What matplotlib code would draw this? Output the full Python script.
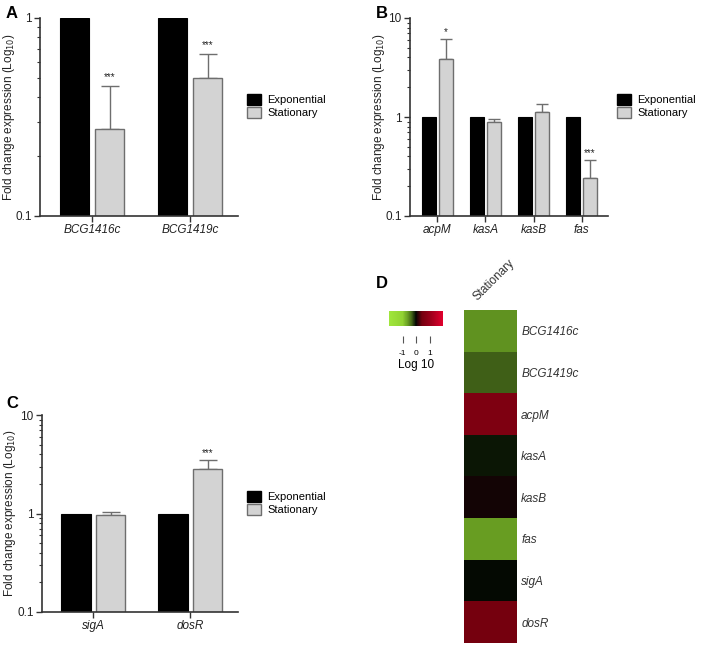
import numpy as np
import matplotlib
matplotlib.use("Agg")
import matplotlib.pyplot as plt
from matplotlib.colors import LinearSegmentedColormap, Normalize
from matplotlib.patches import Patch
from matplotlib.ticker import NullFormatter
import matplotlib.cm as cm

plt.rcParams['font.family'] = ['Liberation Sans', 'DejaVu Sans']
plt.rcParams['font.size'] = 8
plt.rcParams['axes.unicode_minus'] = False

# panel A
genes_a = ['BCG1416c', 'BCG1419c']
exp_a = [1.0, 1.0]
stat_a = [0.275, 0.50]
err_a = [0.18, 0.16]
stars_a = ['***', '***']

# panel B
genes_b = ['acpM', 'kasA', 'kasB', 'fas']
exp_b = [1.0, 1.0, 1.0, 1.0]
stat_b = [3.83, 0.88, 1.13, 0.24]
err_b = [2.35, 0.07, 0.23, 0.13]
stars_b = ['*', '', '', '***']

# panel C
genes_c = ['sigA', 'dosR']
exp_c = [1.0, 1.0]
stat_c = [0.96, 2.8]
err_c = [0.08, 0.7]
stars_c = ['', '***']

# panel D heatmap (log10 of stationary fold change)
heat_genes = ['BCG1416c', 'BCG1419c', 'acpM', 'kasA', 'kasB', 'fas', 'sigA', 'dosR']
heat_vals = [-0.56, -0.30, 0.58, -0.056, 0.053, -0.62, -0.018, 0.447]

GREY = '#d3d3d3'
EDGE = '#6e6e6e'

fig = plt.figure(figsize=(7.03, 6.47), dpi=100)
W, H = 703.0, 647.0


def box(l, t, r, b):
    return [l / W, 1 - b / H, (r - l) / W, (b - t) / H]


def bar_panel(rect, genes, exp, stat, err, stars, ylim, xlim, width, gap, cap,
              legend_x, legend_y, label_x):
    ax = fig.add_axes(rect)
    x = np.arange(len(genes))
    off = (width + gap) / 2
    ax.bar(x - off, exp, width, color='black', edgecolor='black', linewidth=0.8, zorder=2)
    ax.bar(x + off, stat, width, color=GREY, edgecolor=EDGE, linewidth=1.0, zorder=2)
    ax.errorbar(x + off, stat, yerr=[np.zeros(len(err)), err], fmt='none',
                ecolor=EDGE, elinewidth=1.0, capsize=cap, capthick=1.0, zorder=1)
    for xi, s, e, st in zip(x, stat, err, stars):
        if st:
            ax.text(xi + off, (s + e) * 1.04, st, ha='center', va='bottom', fontsize=7, color='#222222')
    ax.set_yscale('log')
    ax.set_ylim(*ylim)
    ax.set_xlim(*xlim)
    ax.set_xticks(x)
    ax.set_xticklabels(genes, style='italic', fontsize=8.5, color='#222222')
    yt = [t for t in [0.1, 1, 10] if ylim[0] <= t <= ylim[1]]
    ax.set_yticks(yt)
    ax.set_yticklabels([('%g' % t) for t in yt], fontsize=8.5, color='#222222')
    ax.yaxis.set_minor_formatter(NullFormatter())
    ax.tick_params(axis='y', which='minor', length=2.5, width=0.8, color='#333333')
    ax.tick_params(axis='both', which='major', length=4, width=1.0, color='#333333', pad=2)
    for s in ['top', 'right']:
        ax.spines[s].set_visible(False)
    for s in ['left', 'bottom']:
        ax.spines[s].set_linewidth(1.2)
        ax.spines[s].set_color('#333333')
    ax.set_ylabel('Fold change expression (Log$_{10}$)', fontsize=8.5, color='#222222')
    ax.yaxis.set_label_coords(label_x, 0.5)
    handles = [Patch(facecolor='black', edgecolor='black', label='Exponential'),
               Patch(facecolor=GREY, edgecolor=EDGE, label='Stationary')]
    fig.legend(handles=handles, loc='center left', bbox_to_anchor=(legend_x, legend_y),
               frameon=False, fontsize=8, handlelength=1.3, handleheight=1.1,
               handletextpad=0.5, labelspacing=0.15, borderpad=0, borderaxespad=0)
    return ax


bar_panel(box(40, 18, 238, 216), genes_a, exp_a, stat_a, err_a, stars_a,
          (0.1, 1), (-0.53, 1.49), 0.30, 0.06, 6.5, 247 / W, 1 - 106 / H, -0.114)
bar_panel(box(410, 18, 608, 216), genes_b, exp_b, stat_b, err_b, stars_b,
          (0.1, 10), (-0.57, 3.55), 0.30, 0.05, 4, 617 / W, 1 - 106 / H, -0.116)
bar_panel(box(42, 415, 238, 612), genes_c, exp_c, stat_c, err_c, stars_c,
          (0.1, 10), (-0.53, 1.49), 0.30, 0.06, 6.5, 247 / W, 1 - 503 / H, -0.124)

# panel letters
for lab, (px, py) in {'A': (6, 14), 'B': (376, 14), 'C': (6, 404), 'D': (376, 284)}.items():
    fig.text(px / W, 1 - py / H, lab, fontsize=12, fontweight='bold', va='center', ha='left')

# heatmap colormap
nodes = [(-2, (160, 230, 60)), (-1, (145, 210, 50)), (-0.6, (102, 155, 34)),
         (-0.3, (63, 94, 23)), (-0.05, (10, 21, 5)), (0, (0, 0, 0)),
         (0.05, (18, 5, 5)), (0.45, (118, 0, 15)), (1, (150, 0, 25)), (2, (225, 0, 45))]
cmap = LinearSegmentedColormap.from_list(
    'gkr', [((v + 2) / 4, tuple(c / 255 for c in col)) for v, col in nodes])
norm = Normalize(-2, 2)

axh = fig.add_axes(box(464, 310, 517, 643))
axh.imshow(np.array(heat_vals).reshape(-1, 1), cmap=cmap, norm=norm, aspect='auto')
axh.set_xticks([])
axh.yaxis.tick_right()
axh.set_yticks(np.arange(len(heat_genes)))
axh.set_yticklabels(heat_genes, style='italic', fontsize=8.5, color='#333333')
axh.tick_params(axis='y', length=0, pad=3)
for s in axh.spines.values():
    s.set_visible(False)
axh.text(0.3, 1.02, 'Stationary', rotation=45, ha='left', va='bottom',
         transform=axh.transAxes, fontsize=8.5, rotation_mode='anchor', color='#333333')

# colour key
axc = fig.add_axes(box(389, 311, 443, 326))
cb = fig.colorbar(cm.ScalarMappable(norm=norm, cmap=cmap), cax=axc, orientation='horizontal')
cb.outline.set_visible(False)
cb.set_ticks([-1, 0, 1])
axc.spines['bottom'].set_position(('outward', 7))
cb.ax.tick_params(labelsize=6, length=5, width=0.8, color='#555555', pad=5)
cb.set_label('Log 10', fontsize=8.5, labelpad=2)

fig.savefig('out.png', dpi=100)
